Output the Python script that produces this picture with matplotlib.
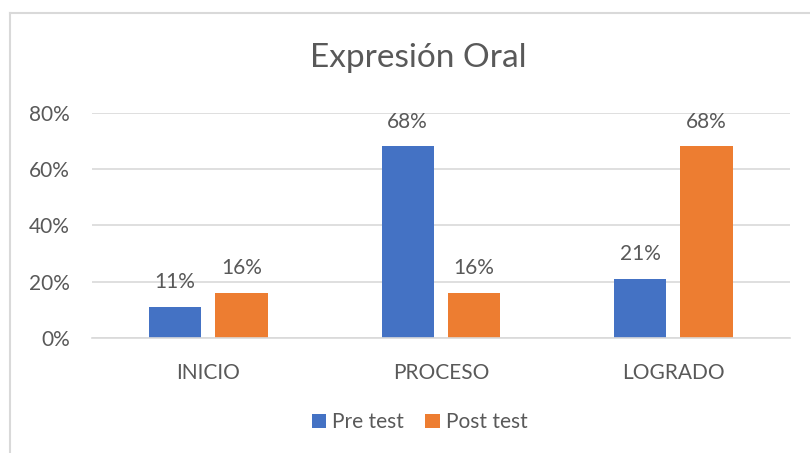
"""Expresión Oral: pre/post test grouped bars."""
import matplotlib
matplotlib.use("Agg")
import matplotlib.pyplot as plt
import matplotlib.ticker as ticker
from matplotlib.lines import Line2D
import numpy as np

categories = ["INICIO", "PROCESO", "LOGRADO"]
pre_test = [0.11, 0.68, 0.21]
post_test = [0.16, 0.16, 0.68]
series_names = ["Pre test", "Post test"]

BLUE = "#4472C4"
ORANGE = "#ED7D31"
TEXT = "#595959"
GRID = "#D9D9D9"

plt.rcParams["font.family"] = ["Lato", "DejaVu Sans"]

fig = plt.figure(figsize=(8.1, 4.53), dpi=100)
ax = fig.add_axes([0.1136, 0.2539, 0.8614, 0.4973])

x = np.arange(len(categories))
width = 0.225
gap = 0.06
b1 = ax.bar(x - (width + gap) / 2, pre_test, width, color=BLUE, label=series_names[0])
b2 = ax.bar(x + (width + gap) / 2, post_test, width, color=ORANGE, label=series_names[1])

for bars, vals in ((b1, pre_test), (b2, post_test)):
    for bar, v in zip(bars, vals):
        ax.text(bar.get_x() + bar.get_width() / 2, v + 0.088, f"{v * 100:.0f}%",
                ha="center", va="center", fontsize=15, color=TEXT)

ax.set_xlim(-0.5, len(categories) - 0.5)
ax.set_ylim(0, 0.8)
ax.yaxis.set_major_locator(ticker.MultipleLocator(0.2))
ax.yaxis.set_major_formatter(ticker.FuncFormatter(lambda v, _: f"{v * 100:.0f}%"))
ax.set_xticks(x)
ax.set_xticklabels(categories)
ax.tick_params(axis="both", length=0, labelsize=15, labelcolor=TEXT)
ax.tick_params(axis="x", pad=18)
ax.tick_params(axis="y", pad=16)
ax.grid(axis="y", color=GRID, linewidth=1.2)
ax.set_axisbelow(True)
for side in ("top", "right", "left"):
    ax.spines[side].set_visible(False)
ax.spines["bottom"].set_color(GRID)
ax.spines["bottom"].set_linewidth(1.2)

fig.text(0.516, 0.872, "Expresión Oral", ha="center", va="center", fontsize=24, color=TEXT)

fig.legend(loc="center", bbox_to_anchor=(0.518, 0.068), ncol=2, frameon=False,
           fontsize=15, labelcolor=TEXT, handlelength=0.7, handleheight=0.7,
           handletextpad=0.3, columnspacing=1.0)

# chart border (cropped screenshot: only left and top edges visible)
fig.add_artist(Line2D([10 / 810, 10 / 810], [0, 1 - 13 / 453], transform=fig.transFigure,
                      color=GRID, linewidth=1.5))
fig.add_artist(Line2D([10 / 810, 1], [1 - 13 / 453, 1 - 13 / 453], transform=fig.transFigure,
                      color=GRID, linewidth=1.5))

fig.savefig("out.png", dpi=100)
plt.close(fig)
